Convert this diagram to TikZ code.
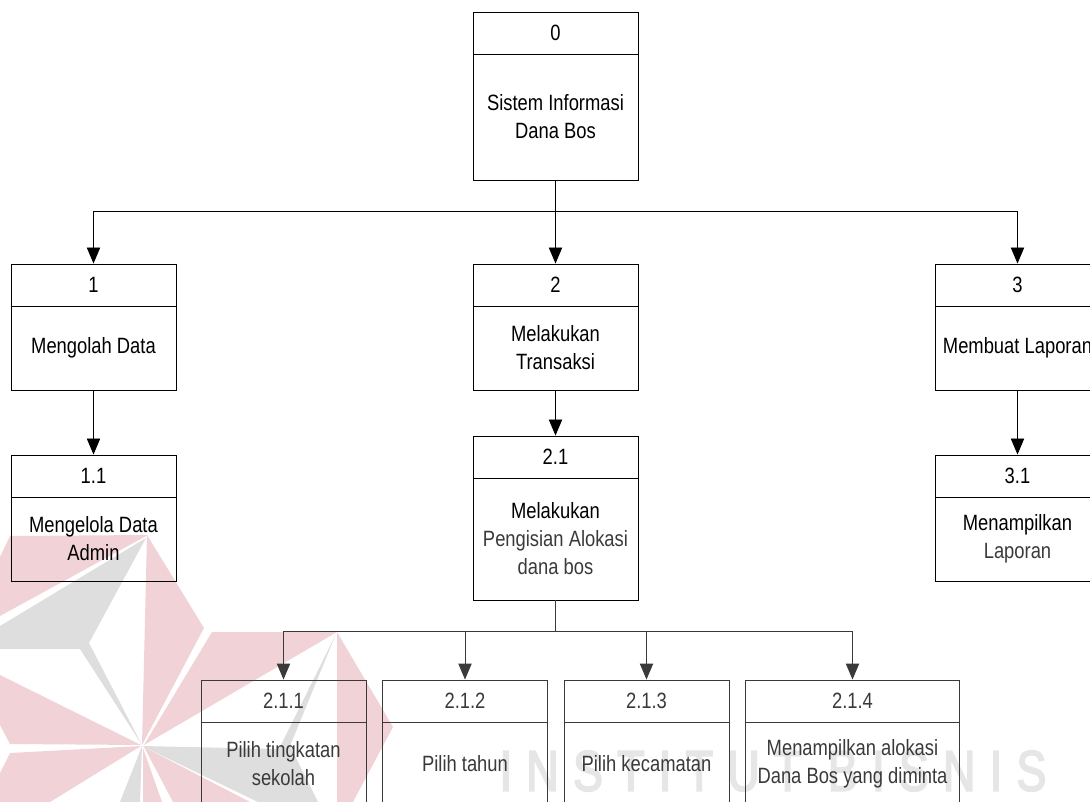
\documentclass[tikz,border=0pt]{standalone}
\usepackage{fontspec}
\setmainfont{Liberation Sans}
\newfontfamily\boxfont[FakeStretch=0.83]{Liberation Sans}
\newfontfamily\markfont[FakeStretch=0.78,LetterSpace=25,FakeBold=3]{Liberation Sans}
\usetikzlibrary{arrows.meta}
\definecolor{wmred}{HTML}{F1D3D7}
\definecolor{wmgray}{HTML}{DEDEDE}
\definecolor{wmtext}{HTML}{E6E6E6}
\definecolor{soft}{HTML}{3A3A3A}
\tikzset{
  boxpart/.style={draw,inner sep=0pt,align=center,line width=0.7pt,font=\boxfont\fontsize{16.6}{21}\selectfont},
  link/.style={line width=0.7pt},
  arrowlink/.style={link,-{Triangle[width=10pt,length=12pt]}},
  redwedge/.style={fill=wmred,draw=none},
  graywedge/.style={fill=wmgray,draw=none}
}
% name, cx, top, divider, bottom, width, number, text, colour
\newcommand\procbox[9]{%
  \node[boxpart,draw=#9,text=#9,minimum width={(#6)*0.75pt},minimum height={(#4-#3)*0.75pt}] (#1h) at (#2,{(#3+#4)/2}) {#7};
  \node[boxpart,draw=#9,text=#9,minimum width={(#6)*0.75pt},minimum height={(#5-#4)*0.75pt}] (#1b) at (#2,{(#4+#5)/2}) {#8};
}
\begin{document}
\begin{tikzpicture}[x=0.75pt,y=-0.75pt]
\useasboundingbox (0,0) rectangle (1090,802);
\clip (0,0) rectangle (1090,802);
% watermark
\fill[redwedge] (10,536) -- (148,535) -- (0,616) -- (0,557) -- cycle;
\fill[graywedge] (146,538) -- (0,626) -- (0,649) -- (80,649) -- (142,745) -- (89,643) -- cycle;
\fill[redwedge] (147,535) -- (204,628) -- (142,745) -- cycle;
\fill[redwedge] (212,632) -- (337,632) -- (144,745) -- cycle;
\fill[graywedge] (142,746) -- (279,749) -- (336,634) -- (290,746) -- (318,802) -- (258,802) -- cycle;
\fill[redwedge] (337,632) -- (393,727) -- (353,802) -- (337,802) -- cycle;
\fill[redwedge] (0,675) -- (141,745) -- (10,744) -- (0,725) -- cycle;
\fill[redwedge] (10,753) -- (141,746) -- (50,802) -- (0,802) -- (0,773) -- cycle;
\fill[graywedge] (120,802) -- (142,746) -- (140,802) -- cycle;
\fill[redwedge] (143,748) -- (143,802) -- (162,802) -- cycle;
\fill[redwedge] (144,747) -- (173,802) -- (250,802) -- cycle;
\node[text=wmtext,font=\markfont\fontsize{43}{43}\selectfont,inner sep=0pt] (mark) at (773,771) {INSTITUT BISNIS};
% boxes
\procbox{a}{555.5}{12}{54}{180}{165}{0}{Sistem Informasi\\Dana Bos}{black}
\procbox{b}{93.5}{264}{306}{390}{165}{1}{Mengolah Data}{black}
\procbox{c}{555.5}{264}{306}{390}{165}{2}{Melakukan\\Transaksi}{black}
\procbox{d}{1017.5}{264}{306}{390}{165}{3}{Membuat Laporan}{black}
\procbox{e}{93.5}{455}{497}{581}{165}{1.1}{Mengelola Data\\Admin}{black}
\procbox{f}{555.5}{436}{478}{600}{165}{2.1}{Melakukan\\\textcolor{soft}{Pengisian Alokasi}\\\textcolor{soft}{dana bos}}{black}
\procbox{g}{1017.5}{455}{497}{581}{165}{3.1}{Menampilkan\\\textcolor{soft}{Laporan}}{black}
\procbox{h}{283.5}{680}{722}{806}{165}{2.1.1}{Pilih tingkatan\\sekolah}{soft}
\procbox{i}{465}{680}{722}{806}{165}{2.1.2}{Pilih tahun}{soft}
\procbox{j}{646.5}{680}{722}{806}{165}{2.1.3}{Pilih kecamatan}{soft}
\procbox{k}{852.5}{680}{722}{806}{214}{2.1.4}{Menampilkan alokasi\\Dana Bos yang diminta}{soft}
% connectors
\coordinate (topbus) at (555.5,211);
\coordinate (lowbus) at (555.5,631);
\draw[link] (ab.south) -- (topbus);
\draw[arrowlink] (topbus) -| (bh.north);
\draw[arrowlink] (topbus) -- (ch.north);
\draw[arrowlink] (topbus) -| (dh.north);
\draw[arrowlink] (bb.south) -- (eh.north);
\draw[arrowlink] (cb.south) -- (fh.north);
\draw[arrowlink] (db.south) -- (gh.north);
\draw[link,soft] (fb.south) -- (lowbus);
\draw[arrowlink,soft] (lowbus) -| (hh.north);
\draw[arrowlink,soft] (lowbus) -| (ih.north);
\draw[arrowlink,soft] (lowbus) -| (jh.north);
\draw[arrowlink,soft] (lowbus) -| (kh.north);
\end{tikzpicture}
\end{document}
